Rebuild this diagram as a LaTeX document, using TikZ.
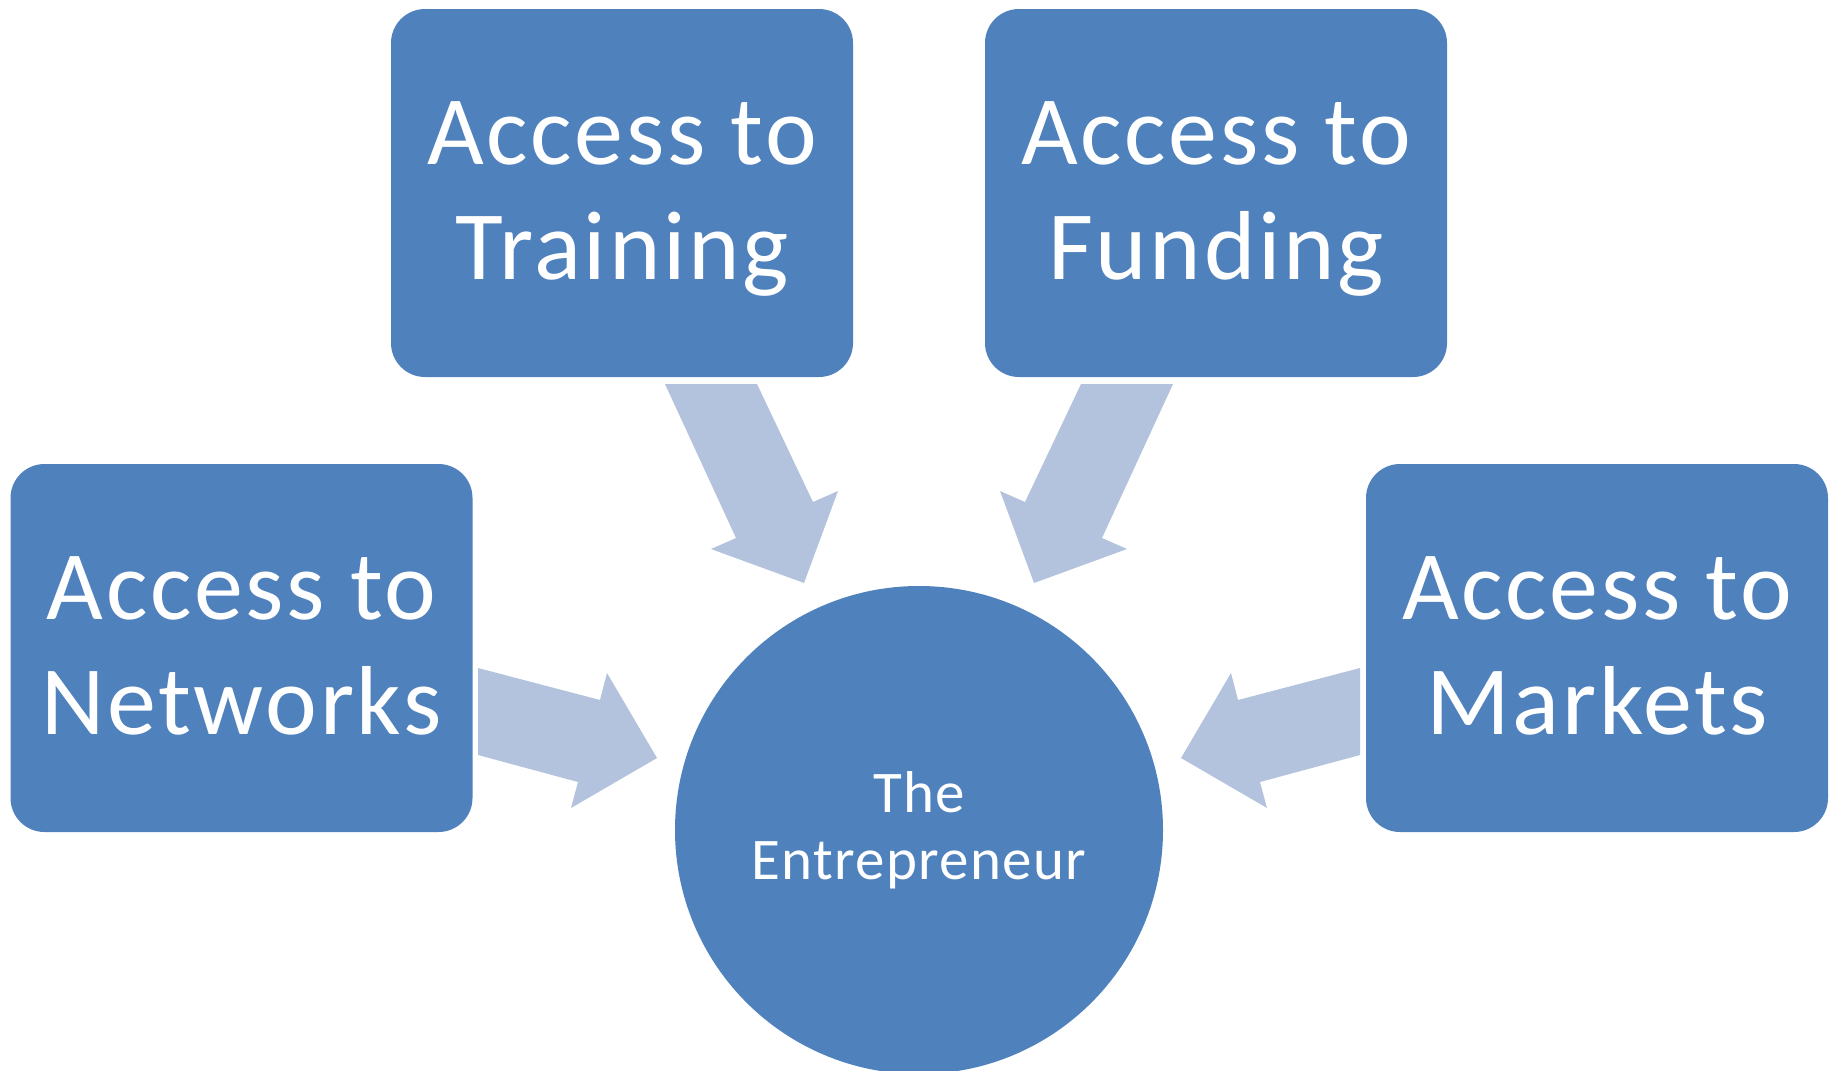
\documentclass[tikz,border=0pt]{standalone}
\usepackage{fontspec}
\setmainfont{Carlito}
\newfontfamily\boxfont[LetterSpace=2.7]{Carlito}
\newfontfamily\circfont[LetterSpace=2.2]{Carlito}
\definecolor{boxblue}{HTML}{4F81BD}
\definecolor{arrowblue}{HTML}{B3C3DD}
\begin{document}
\begin{tikzpicture}[x=1pt,y=-1pt,
  accessbox/.style={draw=none,fill=boxblue,rounded corners=34pt,minimum width=462pt,minimum height=368pt,inner sep=0pt},
  boxtext/.style={text=white,align=center,font=\boxfont\fontsize{98}{115}\selectfont,inner sep=0pt},
  centrecircle/.style={circle,draw=none,fill=boxblue,minimum size=488pt,inner sep=0pt,
    text=white,align=center,font=\circfont\fontsize{59}{67}\selectfont},
  blockarrow/.style={fill=arrowblue,draw=none}]
\useasboundingbox (0,0) rectangle (1837,1071);
\begin{scope}
\clip (0,0) rectangle (1837,1071);
\node[centrecircle] (ent) at (919,830) {The\\Entrepreneur};
\end{scope}
\node[accessbox] (train) at (622,193) {};
\node[accessbox] (fund) at (1216,193) {};
\node[accessbox] (net) at (241.5,648) {};
\node[accessbox] (mark) at (1597,648) {};
\node[boxtext] (trainT) at ([yshift=-5.5pt]train.center) {Access to\\Training\vphantom{g}};
\node[boxtext] (fundT) at ([yshift=-5.5pt]fund.center) {Access to\\Funding\vphantom{g}};
\node[boxtext] (netT) at ([yshift=-5.5pt]net.center) {Access to\\Networks\vphantom{g}};
\node[boxtext] (markT) at ([yshift=-5.5pt]mark.center) {Access to\\Markets\vphantom{g}};
\fill[blockarrow] (665,384) -- (757,384) -- (813,502) -- (838,491) -- (804,583) -- (711,549) -- (736,538) -- cycle;
\fill[blockarrow] (1173,384) -- (1081,384) -- (1025,502) -- (1000,491) -- (1034,583) -- (1127,549) -- (1102,538) -- cycle;
\fill[blockarrow] (478,668) -- (600,700) -- (607,673) -- (657,758) -- (571,808) -- (578,782) -- (478,755) -- cycle;
\fill[blockarrow] (1360,668) -- (1238,700) -- (1231,673) -- (1181,758) -- (1267,808) -- (1260,782) -- (1360,755) -- cycle;
\end{tikzpicture}
\end{document}
